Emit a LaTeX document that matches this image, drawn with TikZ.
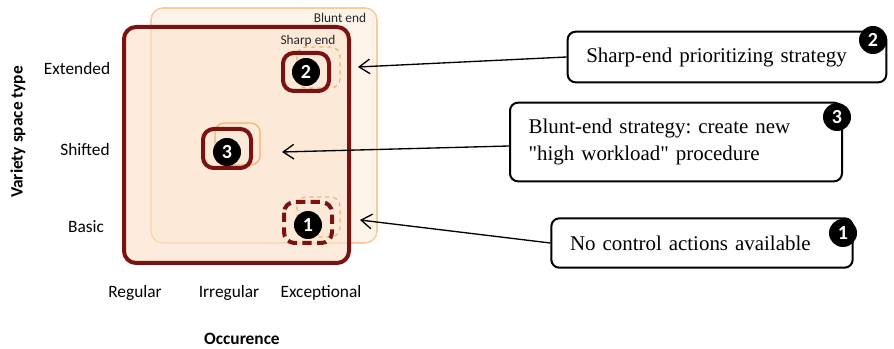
\documentclass[tikz,border=0pt]{standalone}
\usepackage{fontspec}
\setmainfont{Liberation Serif}[Ligatures=TeXOff]
\newfontfamily\calibri{Carlito}
\usepackage{tikz}
\usetikzlibrary{arrows.meta}
\frenchspacing
\definecolor{sharpred}{RGB}{122,18,18}
\definecolor{bluntorange}{RGB}{246,176,110}
\definecolor{peach}{RGB}{252,231,212}
\definecolor{lightpeach}{RGB}{254,243,233}
\tikzset{
  numdot/.style={circle, fill=black, text=white, inner sep=0pt, minimum size=21pt, font=\calibri\bfseries\fontsize{15}{15}\selectfont},
  stratbox/.style={draw=black, line width=1.5pt, rounded corners=6pt, fill=white, align=left, inner xsep=14pt, inner ysep=4pt, font=\fontsize{15.7}{20}\selectfont},
  axislbl/.style={inner sep=0.75pt, font=\calibri\fontsize{13}{15}\selectfont},
  arealbl/.style={inner sep=0.75pt, font=\calibri\fontsize{10}{12}\selectfont, text=black!85},
  pointer/.style={line width=1pt, -{Straight Barb[length=8pt,width=11pt]}}
}
\begin{document}
\begin{tikzpicture}[x=0.75pt,y=0.75pt,yscale=-1,xscale=1]
\path[use as bounding box] (0,0) rectangle (894,349);

% Blunt end area
\draw [bluntorange, fill=lightpeach, line width=0.9] [rounded corners=9] (151,8) rectangle (377,243);
% Sharp end area
\fill [peach, fill opacity=0.8] [rounded corners=9] (124,27) rectangle (349,263);
\draw [bluntorange!60, line width=0.6] [rounded corners=9] (151,8) rectangle (377,243);
\draw [sharpred, line width=3] [rounded corners=9] (124,27) rectangle (349,263);

% Text Node
\node [arealbl] (blunt) at (340,18) {Blunt end};
% Text Node
\node [arealbl] (sharp) at (308,41) {Sharp end};

% Scenario 2
\draw [bluntorange, dashed, line width=0.9] [rounded corners=7] (297,47) rectangle (340,88);
\draw [sharpred, line width=3] [rounded corners=8] (283,53) rectangle (329,91);
\node [numdot] (n2) at (306,72) {2};
% Scenario 3
\draw [bluntorange, line width=0.9] [rounded corners=7] (215,123) rectangle (260,165);
\draw [sharpred, line width=3] [rounded corners=8] (203,129) rectangle (251,168);
\node [numdot] (n3) at (227,152) {3};
% Scenario 1
\draw [bluntorange, dashed, line width=0.9] [rounded corners=7] (297,197) rectangle (340,237);
\draw [sharpred, line width=3, dash pattern=on 7pt off 4pt] [rounded corners=8] (284,202) rectangle (332,243);
\node [numdot] (n1) at (308,225) {1};

% Axis labels
\node [axislbl] (ext) at (77,69) {Extended};
\node [axislbl] (shi) at (85,150) {Shifted};
\node [axislbl] (bas) at (86,227) {Basic};
\node [axislbl, font=\calibri\bfseries\fontsize{13}{15}\selectfont, rotate=90] (vst) at (18,132) {Variety space type};
\node [axislbl] (reg) at (135,293) {Regular};
\node [axislbl] (irr) at (229,293) {Irregular};
\node [axislbl] (exc) at (321,293) {Exceptional};
\node [axislbl, font=\calibri\bfseries\fontsize{13}{15}\selectfont] (occ) at (242,339) {Occurence};

% Strategy boxes
\node [stratbox, text width=211pt, minimum height=38pt] (b2) at (727,57) {Sharp-end prioritizing strategy};
\node [numdot] (c2) at (873,40) {2};
\node [stratbox, text width=221pt, minimum height=59pt] (b3) at (676,142) {Blunt-end strategy: create new\\"high workload" procedure};
\node [numdot] (c3) at (837,117) {3};
\node [stratbox, text width=198pt, minimum height=37pt] (b1) at (702,243) {No control actions available};
\node [numdot] (c1) at (843,233) {1};

% Arrows
\coordinate (t2) at (358,67);
\coordinate (t3) at (282,152);
\coordinate (t1) at (360,220);
\draw [pointer] (b2.west) -- (t2);
\draw [pointer] ([yshift=3pt]b3.west) -- (t3);
\draw [pointer] (b1.west) -- (t1);

\end{tikzpicture}
\end{document}
